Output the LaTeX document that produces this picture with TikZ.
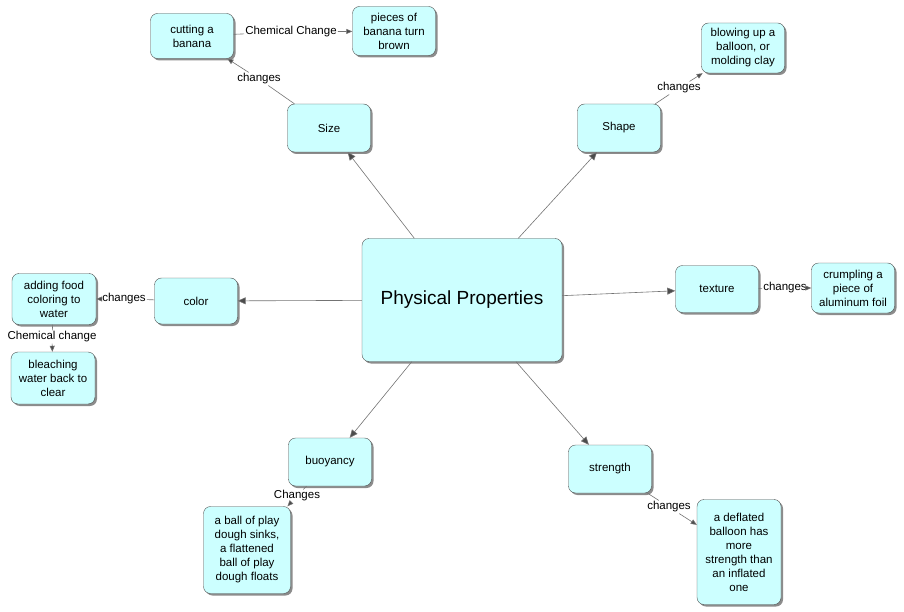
\documentclass[tikz,border=0pt]{standalone}
\usepackage{fontspec}
\setmainfont{Liberation Sans}
\usetikzlibrary{arrows.meta,shadows}
\definecolor{boxfill}{RGB}{204,255,255}
\begin{document}
\begin{tikzpicture}[x=1pt,y=-1pt,
  box/.style={draw=black!70,fill=boxfill,rounded corners=7pt,align=center,inner sep=2pt,
    font=\fontsize{11.5}{14}\selectfont,drop shadow={shadow xshift=2pt,shadow yshift=-2pt,fill=black!45,opacity=1}},
  lbl/.style={fill=white,inner sep=1pt,font=\fontsize{11.5}{14}\selectfont},
  con/.style={draw=black!55,line width=0.6pt},
  arr/.style={con,-{Triangle[length=8pt,width=7pt,fill=black!70]}},
  sarr/.style={con,-{Triangle[length=6pt,width=5pt,fill=black!70]}}]
\useasboundingbox (0,0) rectangle (904,612);
\node[box,minimum width=200,minimum height=123,font=\fontsize{19}{22}\selectfont] (pp) at (462,300) {Physical Properties};
\node[box,minimum width=83,minimum height=48] (size) at (329,128) {Size};
\node[box,minimum width=83,minimum height=48] (shape) at (619,128) {Shape};
\node[box,minimum width=83,minimum height=46] (color) at (196,301) {color};
\node[box,minimum width=83,minimum height=47] (texture) at (717,289) {texture};
\node[box,minimum width=83,minimum height=48] (buoy) at (330,462) {buoyancy};
\node[box,minimum width=83,minimum height=48] (strength) at (610,469) {strength};
\node[box,minimum width=83,minimum height=45] (cut) at (192,36) {cutting a\\banana};
\node[box,minimum width=83,minimum height=49] (pieces) at (394,31) {pieces of\\banana turn\\brown};
\node[box,minimum width=83,minimum height=50] (blow) at (743,48) {blowing up a\\balloon, or\\molding clay};
\node[box,minimum width=83,minimum height=50] (crump) at (853,288) {crumpling a\\piece of\\aluminum foil};
\node[box,minimum width=84,minimum height=51] (food) at (54,299) {adding food\\coloring to\\water};
\node[box,minimum width=84,minimum height=52] (bleach) at (53,378) {bleaching\\water back to\\clear};
\node[box,minimum width=87,minimum height=87] (ball) at (247,550) {a ball of play\\dough sinks,\\a flattened\\ball of play\\dough floats};
\node[box,minimum width=84,minimum height=105] (defl) at (739,552) {a deflated\\balloon has\\more\\strength than\\an inflated\\one};
\draw[arr] (pp) -- (size);
\draw[arr] (pp) -- (shape);
\draw[arr] (pp) -- (color);
\draw[arr] (pp) -- (texture);
\draw[arr] (pp) -- (buoy);
\draw[arr] (pp) -- (strength);
\node[lbl] (l1) at (259,79) {changes};
\draw[con] (size) -- (l1); \draw[sarr] (l1) -- (cut);
\node[lbl] (l2) at (291,32) {Chemical Change};
\draw[con] (cut) -- (l2); \draw[sarr] (l2) -- (pieces);
\node[lbl] (l3) at (679,88) {changes};
\draw[con] (shape) -- (l3); \draw[sarr] (l3) -- (blow);
\node[lbl] (l4) at (785,288) {changes};
\draw[con] (texture) -- (l4); \draw[sarr] (l4) -- (crump);
\node[lbl] (l5) at (124,299) {changes};
\draw[con] (color) -- (l5); \draw[sarr] (l5) -- (food);
\node[lbl] (l6) at (52,337) {Chemical change};
\draw[con] (food) -- (l6); \draw[sarr] (l6) -- (bleach);
\node[lbl] (l7) at (297,496) {Changes};
\draw[con] (buoy) -- (l7); \draw[sarr] (l7) -- (ball);
\node[lbl] (l8) at (669,507) {changes};
\draw[con] (strength) -- (l8); \draw[sarr] (l8) -- (defl);
\end{tikzpicture}
\end{document}
